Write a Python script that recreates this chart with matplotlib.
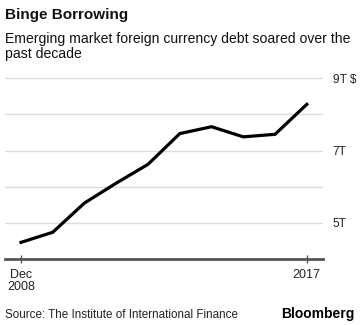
import matplotlib.pyplot as plt

# ---------- data ----------
years = [2008, 2009, 2010, 2011, 2012, 2013, 2014, 2015, 2016, 2017]
debt = [4.46, 4.74, 5.55, 6.10, 6.62, 7.47, 7.66, 7.38, 7.45, 8.28]  # trillion $
ytick_vals = [5, 7, 9]
ytick_labels = ["5T", "7T", "9T $"]
xtick_vals = [2008, 2017]
xtick_labels = ["Dec\n2008", "2017"]

plt.rcParams['font.family'] = ['Liberation Sans', 'DejaVu Sans']

W, H = 364, 325
fig = plt.figure(figsize=(W / 100, H / 100), dpi=100)
fig.patch.set_facecolor("white")

# axes in pixel coords
left, right, top, bottom = 5, 323, 78.3, 259
ax = fig.add_axes([left / W, 1 - bottom / H, (right - left) / W, (bottom - top) / H])

ax.plot(years, debt, color="black", linewidth=2.3, solid_joinstyle="miter")
ax.set_xlim(2007.496, 2017.51)
ax.set_ylim(4, 9)

# grid
for v in [5, 6, 7, 8, 9]:
    ax.axhline(v, color="#dcdcdc", linewidth=1, zorder=0)

for s in ["top", "right", "left"]:
    ax.spines[s].set_visible(False)
ax.spines["bottom"].set_color("#555555")
ax.spines["bottom"].set_linewidth(2)

ax.set_yticks(ytick_vals)
ax.set_yticklabels(ytick_labels)
ax.yaxis.tick_right()
ax.tick_params(axis="y", length=0, pad=7, labelsize=8.6, labelcolor="#222222")

ax.set_xticks(xtick_vals)
ax.set_xticklabels(xtick_labels, linespacing=1.05)
ax.tick_params(axis="x", direction="inout", length=6, width=1, color="#555555",
               pad=4, labelsize=9, labelcolor="#222222")

# ---------- texts ----------
fig.text(5 / W, 1 - 19 / H, "Binge Borrowing", fontsize=11, fontweight="bold",
         color="#111111")
fig.text(5 / W, 1 - 58 / H, "Emerging market foreign currency debt soared over the\npast decade",
         fontsize=10.1, color="#111111", linespacing=1.1)
fig.text(5 / W, 1 - 318 / H, "Source: The Institute of International Finance",
         fontsize=8.4, color="#222222")
fig.text(354 / W, 1 - 318 / H, "Bloomberg", fontsize=10, fontweight="heavy",
         color="black", ha="right")

fig.savefig("out.png", dpi=100)
